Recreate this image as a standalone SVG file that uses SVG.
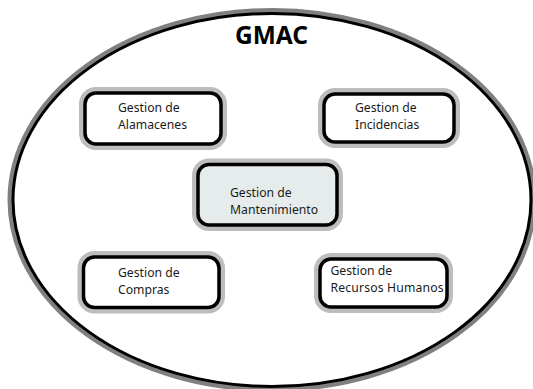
<svg xmlns="http://www.w3.org/2000/svg" width="533" height="389" viewBox="0 0 533 389">
  <style>
    .halo { fill: none; stroke: #bdbdbd; stroke-width: 12; }
    .box { fill: #ffffff; stroke: #000000; stroke-width: 3.5; }
    .box.main { fill: #e6eceb; }
    .lbl { font-family: "Noto Sans", "Open Sans", sans-serif; font-size: 12.2px; fill: #1a1a1a; }
    .title { font-family: "Noto Sans", "Open Sans", sans-serif; font-size: 24.5px; font-weight: bold; fill: #000000; }
  </style>
  <rect x="0" y="0" width="533" height="389" fill="#ffffff"/>
  <g id="system">
    <ellipse cx="272" cy="200" rx="259" ry="186.5" fill="none" stroke="#808080" stroke-width="11"/>
    <ellipse cx="272" cy="200" rx="259" ry="186.5" fill="#ffffff" stroke="#000000" stroke-width="3"/>
    <text class="title" x="271.5" y="43.5" text-anchor="middle">GMAC</text>
  </g>
  <g id="node-alamacenes">
    <rect class="halo" x="85" y="93" width="136" height="51" rx="11"/>
    <rect class="box" x="85" y="93" width="136" height="51" rx="11"/>
    <text class="lbl" x="118" y="111.5">Gestion de</text>
    <text class="lbl" x="118" y="128.5">Alamacenes</text>
  </g>
  <g id="node-incidencias">
    <rect class="halo" x="324" y="94" width="130" height="48" rx="11"/>
    <rect class="box" x="324" y="94" width="130" height="48" rx="11"/>
    <text class="lbl" x="355" y="111.5">Gestion de</text>
    <text class="lbl" x="355" y="128.5">Incidencias</text>
  </g>
  <g id="node-mantenimiento">
    <rect class="halo" x="198" y="164.5" width="139" height="60.5" rx="11"/>
    <rect class="box main" x="198" y="164.5" width="139" height="60.5" rx="11"/>
    <text class="lbl" x="230" y="196.5">Gestion de</text>
    <text class="lbl" x="230" y="213.5">Mantenimiento</text>
  </g>
  <g id="node-compras">
    <rect class="halo" x="83.5" y="257" width="135.5" height="50.5" rx="11"/>
    <rect class="box" x="83.5" y="257" width="135.5" height="50.5" rx="11"/>
    <text class="lbl" x="118" y="276.5">Gestion de</text>
    <text class="lbl" x="118" y="293.5">Compras</text>
  </g>
  <g id="node-recursos-humanos">
    <rect class="halo" x="320" y="259" width="127" height="48" rx="11"/>
    <rect class="box" x="320" y="259" width="127" height="48" rx="11"/>
    <text class="lbl" x="330.5" y="274.5">Gestion de</text>
    <text class="lbl" x="330.5" y="291.5" textLength="113">Recursos Humanos</text>
  </g>
  <g id="connectors"/>
</svg>
